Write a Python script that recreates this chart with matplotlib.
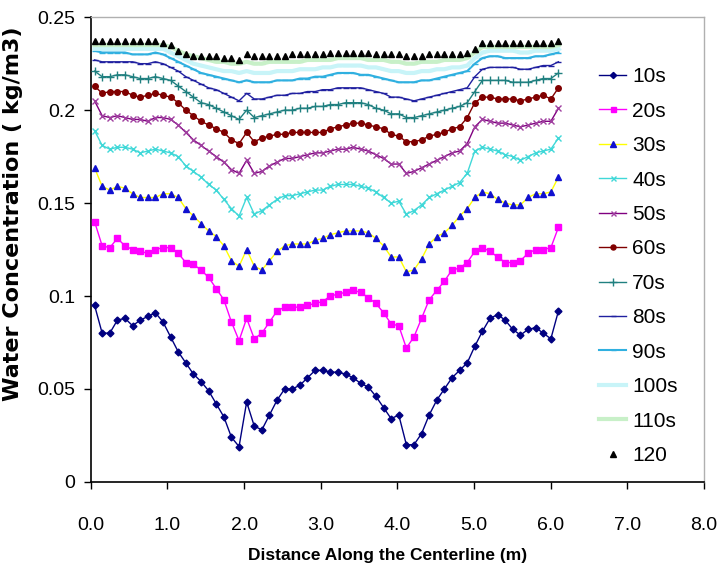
import numpy as np
import matplotlib
matplotlib.use("Agg")
import matplotlib.pyplot as plt
from matplotlib import font_manager

# ---- data ----
x = np.linspace(0.05, 6.1, 62)

s10 = [0.095, 0.080, 0.080, 0.087, 0.088, 0.084, 0.087, 0.089, 0.091, 0.086,
       0.078, 0.070, 0.064, 0.058, 0.054, 0.049, 0.042, 0.035, 0.024, 0.019,
       0.043, 0.030, 0.028, 0.036, 0.044, 0.050, 0.050, 0.052, 0.056, 0.060,
       0.060, 0.059, 0.059, 0.058, 0.056, 0.053, 0.051, 0.046, 0.040, 0.034,
       0.036, 0.020, 0.020, 0.026, 0.036, 0.044, 0.050, 0.056, 0.060, 0.064,
       0.073, 0.081, 0.088, 0.090, 0.087, 0.082, 0.079, 0.082, 0.083, 0.080,
       0.077, 0.092]
s20 = [0.140, 0.127, 0.126, 0.131, 0.127, 0.125, 0.124, 0.123, 0.125, 0.126,
       0.126, 0.123, 0.118, 0.117, 0.114, 0.110, 0.104, 0.098, 0.086, 0.076,
       0.088, 0.077, 0.080, 0.086, 0.092, 0.094, 0.094, 0.094, 0.095, 0.096,
       0.097, 0.100, 0.101, 0.102, 0.103, 0.102, 0.099, 0.096, 0.091, 0.085,
       0.084, 0.072, 0.078, 0.088, 0.098, 0.103, 0.108, 0.114, 0.115, 0.118,
       0.124, 0.126, 0.124, 0.121, 0.118, 0.118, 0.119, 0.123, 0.125, 0.125,
       0.126, 0.137]
s30 = [0.169, 0.159, 0.157, 0.159, 0.158, 0.155, 0.153, 0.153, 0.153, 0.155,
       0.155, 0.153, 0.147, 0.143, 0.139, 0.135, 0.132, 0.127, 0.119, 0.116,
       0.125, 0.116, 0.114, 0.119, 0.124, 0.127, 0.128, 0.128, 0.128, 0.130,
       0.131, 0.133, 0.134, 0.135, 0.135, 0.135, 0.134, 0.131, 0.127, 0.121,
       0.121, 0.113, 0.114, 0.120, 0.128, 0.132, 0.134, 0.138, 0.143, 0.147,
       0.153, 0.156, 0.155, 0.152, 0.150, 0.149, 0.149, 0.153, 0.155, 0.155,
       0.156, 0.164]
s40 = [0.189, 0.181, 0.179, 0.180, 0.180, 0.179, 0.177, 0.178, 0.179, 0.178,
       0.177, 0.175, 0.170, 0.167, 0.164, 0.160, 0.157, 0.152, 0.147, 0.143,
       0.153, 0.144, 0.146, 0.149, 0.152, 0.154, 0.154, 0.155, 0.156, 0.157,
       0.157, 0.159, 0.160, 0.160, 0.160, 0.159, 0.158, 0.156, 0.153, 0.150,
       0.151, 0.144, 0.146, 0.149, 0.153, 0.155, 0.157, 0.159, 0.161, 0.166,
       0.178, 0.180, 0.179, 0.178, 0.176, 0.175, 0.173, 0.175, 0.177, 0.178,
       0.179, 0.185]
s50 = [0.205, 0.197, 0.196, 0.197, 0.196, 0.195, 0.195, 0.194, 0.196, 0.196,
       0.195, 0.192, 0.188, 0.184, 0.181, 0.178, 0.175, 0.172, 0.168, 0.166,
       0.173, 0.166, 0.167, 0.170, 0.172, 0.174, 0.174, 0.175, 0.176, 0.177,
       0.177, 0.178, 0.179, 0.179, 0.180, 0.179, 0.178, 0.176, 0.174, 0.171,
       0.171, 0.166, 0.167, 0.169, 0.171, 0.173, 0.175, 0.177, 0.178, 0.182,
       0.191, 0.195, 0.194, 0.193, 0.193, 0.192, 0.191, 0.192, 0.193, 0.194,
       0.194, 0.201]
s60 = [0.213, 0.209, 0.210, 0.210, 0.210, 0.208, 0.207, 0.208, 0.209, 0.208,
       0.207, 0.204, 0.200, 0.197, 0.194, 0.192, 0.190, 0.188, 0.184, 0.182,
       0.188, 0.183, 0.185, 0.186, 0.187, 0.187, 0.188, 0.188, 0.188, 0.188,
       0.188, 0.190, 0.191, 0.192, 0.193, 0.193, 0.192, 0.191, 0.190, 0.187,
       0.186, 0.183, 0.183, 0.184, 0.186, 0.187, 0.188, 0.190, 0.191, 0.196,
       0.204, 0.207, 0.207, 0.206, 0.206, 0.206, 0.205, 0.206, 0.207, 0.208,
       0.206, 0.212]
s70 = [0.221, 0.218, 0.218, 0.219, 0.219, 0.218, 0.217, 0.217, 0.218, 0.217,
       0.216, 0.213, 0.210, 0.207, 0.204, 0.203, 0.201, 0.199, 0.197, 0.195,
       0.200, 0.196, 0.197, 0.198, 0.199, 0.200, 0.200, 0.201, 0.201, 0.202,
       0.202, 0.203, 0.203, 0.204, 0.204, 0.204, 0.203, 0.201, 0.200, 0.198,
       0.198, 0.196, 0.196, 0.197, 0.198, 0.199, 0.200, 0.201, 0.202, 0.204,
       0.210, 0.216, 0.216, 0.216, 0.216, 0.215, 0.215, 0.215, 0.216, 0.217,
       0.217, 0.220]
s80 = [0.227, 0.226, 0.226, 0.226, 0.226, 0.226, 0.225, 0.225, 0.226, 0.225,
       0.223, 0.221, 0.218, 0.216, 0.214, 0.212, 0.211, 0.209, 0.207, 0.205,
       0.209, 0.206, 0.206, 0.207, 0.208, 0.208, 0.209, 0.209, 0.210, 0.210,
       0.211, 0.211, 0.212, 0.212, 0.212, 0.212, 0.211, 0.210, 0.209, 0.207,
       0.207, 0.206, 0.205, 0.206, 0.207, 0.208, 0.209, 0.210, 0.211, 0.212,
       0.218, 0.222, 0.223, 0.223, 0.223, 0.223, 0.222, 0.222, 0.223, 0.224,
       0.224, 0.226]
s90 = [0.232, 0.231, 0.231, 0.231, 0.231, 0.230, 0.230, 0.230, 0.231, 0.230,
       0.228, 0.226, 0.224, 0.222, 0.220, 0.219, 0.218, 0.217, 0.216, 0.215,
       0.216, 0.215, 0.215, 0.215, 0.216, 0.216, 0.216, 0.217, 0.217, 0.218,
       0.218, 0.219, 0.220, 0.220, 0.220, 0.219, 0.219, 0.218, 0.217, 0.216,
       0.215, 0.215, 0.215, 0.216, 0.216, 0.217, 0.218, 0.219, 0.220, 0.221,
       0.225, 0.228, 0.229, 0.229, 0.228, 0.228, 0.228, 0.228, 0.229, 0.229,
       0.230, 0.231]
s100 = [0.233, 0.233, 0.233, 0.233, 0.233, 0.233, 0.233, 0.233, 0.233, 0.233,
        0.231, 0.229, 0.227, 0.225, 0.224, 0.223, 0.222, 0.221, 0.221, 0.220,
        0.221, 0.220, 0.220, 0.220, 0.221, 0.221, 0.221, 0.222, 0.222, 0.222,
        0.223, 0.223, 0.224, 0.224, 0.224, 0.224, 0.223, 0.223, 0.222, 0.221,
        0.221, 0.220, 0.220, 0.221, 0.221, 0.222, 0.222, 0.223, 0.223, 0.224,
        0.228, 0.231, 0.232, 0.232, 0.232, 0.232, 0.231, 0.231, 0.232, 0.232,
        0.232, 0.233]
s110 = [0.235, 0.235, 0.235, 0.235, 0.235, 0.235, 0.235, 0.235, 0.235, 0.235,
        0.234, 0.232, 0.230, 0.229, 0.228, 0.227, 0.226, 0.226, 0.225, 0.225,
        0.226, 0.225, 0.225, 0.226, 0.226, 0.226, 0.226, 0.226, 0.227, 0.227,
        0.227, 0.227, 0.228, 0.228, 0.228, 0.228, 0.227, 0.227, 0.227, 0.226,
        0.226, 0.225, 0.225, 0.226, 0.226, 0.226, 0.227, 0.227, 0.227, 0.228,
        0.231, 0.234, 0.234, 0.234, 0.234, 0.234, 0.234, 0.234, 0.234, 0.234,
        0.234, 0.235]
s120 = [0.237, 0.237, 0.237, 0.237, 0.237, 0.237, 0.237, 0.237, 0.237, 0.236,
        0.235, 0.232, 0.230, 0.229, 0.229, 0.229, 0.229, 0.228, 0.228, 0.227,
        0.230, 0.229, 0.229, 0.229, 0.229, 0.229, 0.230, 0.230, 0.230, 0.230,
        0.230, 0.231, 0.231, 0.231, 0.231, 0.231, 0.231, 0.230, 0.230, 0.230,
        0.230, 0.229, 0.229, 0.229, 0.230, 0.230, 0.230, 0.230, 0.230, 0.231,
        0.233, 0.236, 0.236, 0.236, 0.236, 0.236, 0.236, 0.236, 0.236, 0.236,
        0.236, 0.237]

labels = ["10s", "20s", "30s", "40s", "50s", "60s", "70s", "80s", "90s", "100s", "110s", "120"]
series = [s10, s20, s30, s40, s50, s60, s70, s80, s90, s100, s110, s120]

xticks = [0.0, 1.0, 2.0, 3.0, 4.0, 5.0, 6.0, 7.0, 8.0]
yticks = [0, 0.05, 0.1, 0.15, 0.2, 0.25]
ytick_labels = ["0", "0.05", "0.1", "0.15", "0.2", "0.25"]

# ---- styles ----
styles = [
    dict(color="#000080", marker="D", ms=3.5, mfc="#000080", mec="#000080", lw=1.0, ls="-"),
    dict(color="#ff00ff", marker="s", ms=4, mfc="#ff00ff", mec="#ff00ff", lw=1.0, ls="-"),
    dict(color="#ffff00", marker="^", ms=5, mfc="#1010d0", mec="#1010d0", lw=1.0, ls="-"),
    dict(color="#40d8d8", marker="x", ms=4, mfc="#40d8d8", mec="#40d8d8", lw=1.0, ls="-"),
    dict(color="#800080", marker="x", ms=4, mfc="#800080", mec="#a040a0", lw=1.0, ls="-"),
    dict(color="#800000", marker="o", ms=4, mfc="#800000", mec="#800000", lw=1.0, ls="-"),
    dict(color="#208080", marker="+", ms=6, mfc="#208080", mec="#208080", lw=1.0, ls="-"),
    dict(color="#2020a0", marker="_", ms=4, mfc="#2020a0", mec="#2020a0", lw=1.0, ls="-"),
    dict(color="#30b0e0", marker="_", ms=4, mfc="#30b0e0", mec="#30b0e0", lw=1.5, ls="-"),
    dict(color="#c8f4f8", marker="_", ms=4, mfc="#c8f4f8", mec="#c8f4f8", lw=3.0, ls="-"),
    dict(color="#c8f0c8", marker="_", ms=4, mfc="#c8f0c8", mec="#c8f0c8", lw=3.0, ls="-"),
    dict(color="#000000", marker="^", ms=5, mfc="#000000", mec="#000000", lw=0, ls="none"),
]

avail = {f.name for f in font_manager.fontManager.ttflist}
narrow = "Liberation Sans Narrow" if "Liberation Sans Narrow" in avail else "Liberation Sans"
plt.rcParams["font.family"] = [narrow, "DejaVu Sans"]

fig = plt.figure(figsize=(7.2, 5.73), dpi=100)
ax = fig.add_axes([0.126, 0.159, 0.852, 0.811])

for i in range(len(series)):
    ax.plot(x, series[i], label=labels[i], zorder=3 + i * 0.1, **styles[i])

ax.set_xlim(0, 8)
ax.set_ylim(0, 0.25)
ax.set_xticks(xticks)
ax.set_xticklabels([f"{t:.1f}" for t in xticks])
ax.set_yticks(yticks)
ax.set_yticklabels(ytick_labels)
ax.tick_params(axis="both", labelsize=14, direction="out", length=5, width=1, colors="#000000")
ax.tick_params(axis="x", pad=20)
ax.tick_params(axis="y", pad=6)

for sp in ["left", "bottom"]:
    ax.spines[sp].set_color("#000000")
    ax.spines[sp].set_linewidth(1.2)
for sp in ["top", "right"]:
    ax.spines[sp].set_color("#b0b0b0")
    ax.spines[sp].set_linewidth(1.0)

ax.set_xlabel("Distance Along the Centerline (m)", fontsize=12.5, fontweight="bold")
ax.xaxis.set_label_coords(0.484, -0.142)
ax.set_ylabel("Water Concentration ( kg/m3)", fontsize=16, fontweight="bold",
              family=["DejaVu Sans"])
ax.yaxis.set_label_coords(-0.111, 0.578)

leg = ax.legend(loc="upper left", bbox_to_anchor=(0.815, 0.91), frameon=False,
                fontsize=15, handlelength=1.3, handletextpad=0.3, labelspacing=0.74,
                borderaxespad=0.0, markerscale=0.9)

fig.savefig("out.png", dpi=100)
